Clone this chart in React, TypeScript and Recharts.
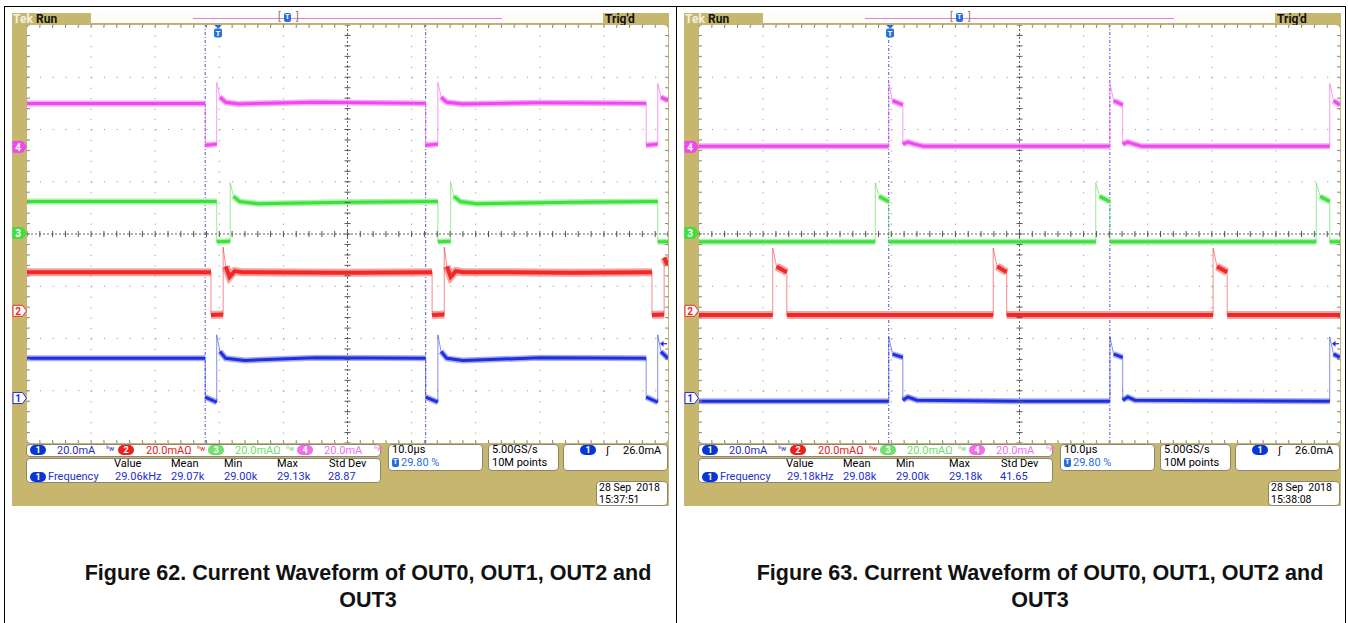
import React from "react";
import {
  ComposedChart,
  Line,
  XAxis,
  YAxis,
  CartesianGrid,
  ReferenceLine,
  ReferenceDot,
  Scatter,
} from "recharts";

type Pt = [number, number];

// time in µs (10 µs/div), level in divisions from screen centre

// ---- Figure 62 ----
const fig62Ch4: Pt[] = [
  [0, 2.5], [27.8, 2.5], [27.8, 1.7], [29.6, 1.72], [29.6, 2.9], [30.1, 2.62], [31.0, 2.52], [33, 2.49],
  [45, 2.52], [62.2, 2.5], [62.2, 1.7], [64.1, 1.72], [64.1, 2.9], [64.6, 2.62], [65.5, 2.52], [68, 2.49],
  [80, 2.51], [96.6, 2.5], [96.6, 1.7], [98.4, 1.72], [98.4, 2.88], [98.9, 2.62], [100, 2.55],
];
const fig62Ch3: Pt[] = [
  [0, 0.62], [29.6, 0.62], [29.6, -0.15], [31.7, -0.14], [31.7, 0.98], [32.2, 0.72], [33.2, 0.62], [36, 0.58],
  [50, 0.61], [64.1, 0.62], [64.1, -0.15], [66.1, -0.14], [66.1, 0.98], [66.6, 0.72], [67.6, 0.62], [70, 0.58],
  [85, 0.61], [98.4, 0.62], [98.4, -0.15], [100, -0.15],
];
const fig62Ch2: Pt[] = [
  [0, -0.73], [28.7, -0.73], [28.7, -1.55], [30.6, -1.54], [30.6, -0.25], [31.0, -0.62], [31.6, -0.82],
  [32.4, -0.71], [33.5, -0.73], [50, -0.74], [63.2, -0.73], [63.2, -1.55], [65.1, -1.54],
  [65.1, -0.25], [65.5, -0.62], [66.1, -0.82], [66.9, -0.71], [68, -0.73], [85, -0.74],
  [97.5, -0.73], [97.5, -1.55], [99.4, -1.54], [99.4, -0.45], [100, -0.6],
];
const fig62Ch1: Pt[] = [
  [0, -2.38], [27.8, -2.38], [27.8, -3.12], [29.6, -3.22], [29.6, -1.93], [30.1, -2.25], [31.0, -2.38], [34, -2.42],
  [45, -2.37], [62.2, -2.38], [62.2, -3.12], [64.1, -3.22], [64.1, -1.93], [64.6, -2.25], [65.5, -2.38], [68, -2.42],
  [80, -2.37], [96.6, -2.38], [96.6, -3.12], [98.4, -3.22], [98.4, -1.93], [98.9, -2.25], [100, -2.38],
];
const fig62Cursors = [27.8, 62.2];
const fig62Meas = ["29.06kHz", "29.07k", "29.00k", "29.13k", "28.87"];
const fig62Date = ["28 Sep  2018", "15:37:51"];

// ---- Figure 63 ----
const fig63Ch4: Pt[] = [
  [0, 1.68], [29.6, 1.68], [29.6, 2.88], [30.2, 2.55], [31.8, 2.47], [31.8, 1.72], [32.6, 1.76], [33.6, 1.72],
  [35, 1.68], [64.1, 1.68], [64.1, 2.88], [64.7, 2.55], [66.1, 2.47], [66.1, 1.72], [66.9, 1.76], [67.9, 1.72],
  [69, 1.68], [98.4, 1.68], [98.4, 2.88], [99.0, 2.55], [100, 2.47],
];
const fig63Ch3: Pt[] = [
  [0, -0.15], [27.5, -0.15], [27.5, 0.98], [28.1, 0.72], [29.6, 0.62], [29.6, -0.15], [61.9, -0.15],
  [61.9, 0.98], [62.5, 0.72], [64.1, 0.62], [64.1, -0.15], [96.3, -0.15], [96.3, 0.98], [96.9, 0.72],
  [98.4, 0.62], [98.4, -0.15], [100, -0.15],
];
const fig63Ch2: Pt[] = [
  [0, -1.55], [11.5, -1.55], [11.5, -0.27], [12.1, -0.62], [13.7, -0.73], [13.7, -1.55], [45.9, -1.55],
  [45.9, -0.27], [46.5, -0.62], [48.0, -0.73], [48.0, -1.55], [80.2, -1.55], [80.2, -0.27], [80.8, -0.62],
  [82.4, -0.73], [82.4, -1.55], [100, -1.55],
];
const fig63Ch1: Pt[] = [
  [0, -3.2], [29.6, -3.2], [29.6, -1.97], [30.2, -2.3], [31.8, -2.36], [31.8, -3.18], [32.6, -3.12], [34, -3.18],
  [50, -3.2], [64.1, -3.2], [64.1, -1.97], [64.7, -2.3], [66.1, -2.36], [66.1, -3.18], [66.9, -3.12], [68, -3.18],
  [98.4, -3.2], [98.4, -1.97], [99.0, -2.3], [100, -2.36],
];
const fig63Cursors = [29.6, 64.1];
const fig63Meas = ["29.18kHz", "29.08k", "29.00k", "29.18k", "41.65"];
const fig63Date = ["28 Sep  2018", "15:38:08"];

const X_TICKS = [0, 10, 20, 30, 40, 50, 60, 70, 80, 90, 100];
const Y_TICKS = [-4, -3, -2, -1, 0, 1, 2, 3, 4];
const MEAS_HEAD = ["Value", "Mean", "Min", "Max", "Std Dev"];
const CH_LEVELS = [-3.14, -1.47, 0.02, 1.67]; // ch1..ch4 ground markers
const TRIG_POS = 29.8;
const TRIG_LEVEL = -2.1;

const OLIVE = "#c6b66e";
const CH = [
  { n: "1", color: "#1f2fe0", halo: "#a6acf4", text: "#1c2fc8", filled: false, w: 3, hw: 6 },
  { n: "2", color: "#f02828", halo: "#f7a2a2", text: "#e52020", filled: false, w: 4, hw: 8 },
  { n: "3", color: "#3ee03e", halo: "#a6f2a6", text: "#6ade6a", filled: true, w: 3, hw: 6 },
  { n: "4", color: "#f048f0", halo: "#f8a8f8", text: "#f070f0", filled: true, w: 3, hw: 6 },
];

const minorT = Array.from({ length: 51 }, (_, i) => i * 2);
const minorV = Array.from({ length: 41 }, (_, i) => Math.round((-4 + i * 0.2) * 10) / 10);

const toRows = (pts: Pt[]) => pts.map(([t, v]) => ({ t, v }));
// the thick band skips vertical edges and the very tip of each spike,
// those are left to the thin trace, like on the scope screen
const withBreaks = (pts: Pt[]) => {
  const out: { t: number; v: number | null }[] = [];
  pts.forEach(([t, v], i) => {
    const edge = i > 0 && pts[i - 1][0] === t;
    const spikeTop = edge && v > pts[i - 1][1] && i + 1 < pts.length && pts[i + 1][1] < v - 0.2;
    if (edge) out.push({ t, v: null });
    out.push({ t, v: spikeTop ? null : v });
  });
  return out;
};

const tick = (x1: number, y1: number, x2: number, y2: number, color = "#8a8a8a") =>
  // eslint-disable-next-line @typescript-eslint/no-explicit-any
  (p: any) => (
    <line x1={p.cx + x1} y1={p.cy + y1} x2={p.cx + x2} y2={p.cy + y2} stroke={color} strokeWidth={1} />
  );

const FONT = "Roboto, 'DejaVu Sans', sans-serif";

function Txt({ x, y, color = "#000", size = 11, children }: any) {
  return (
    <div style={{ position: "absolute", left: x, top: y, color, fontSize: size, lineHeight: "11px", whiteSpace: "nowrap" }}>
      {children}
    </div>
  );
}

function Badge({ x, y, color, n }: any) {
  return (
    <div
      style={{
        position: "absolute", left: x, top: y, width: 16, height: 10, borderRadius: 6, background: color,
        color: "#fff", fontSize: 9, fontWeight: "bold", lineHeight: "10px", textAlign: "center",
      }}
    >
      {n}
    </div>
  );
}

function Box({ x, y, w, h }: any) {
  return (
    <div
      style={{
        position: "absolute", left: x, top: y, width: w, height: h, background: "#fff",
        border: "1px solid #8c8670", borderRadius: 4, boxSizing: "border-box",
      }}
    />
  );
}

function Bw({ x, y, color }: any) {
  return (
    <div style={{ position: "absolute", left: x, top: y + 1, color, fontSize: 7, lineHeight: "8px", whiteSpace: "nowrap" }}>
      ᴮw
    </div>
  );
}

function TIcon({ x, y }: any) {
  return (
    <div
      style={{
        position: "absolute", left: x, top: y, width: 7, height: 9, borderRadius: 2, background: "#2a6fd8",
        color: "#fff", fontSize: 7, fontWeight: "bold", lineHeight: "9px", textAlign: "center",
      }}
    >
      T
    </div>
  );
}

interface PanelProps {
  left: number;
  traces: Pt[][]; // ch1..ch4
  cursors: number[];
  meas: string[];
  date: string[];
}

function ScopePanel({ left, traces, cursors, meas, date }: PanelProps) {
  const edgeTop = minorT.map((t) => ({ t, v: 4 }));
  const edgeBottom = minorT.map((t) => ({ t, v: -4 }));
  const edgeLeft = minorV.map((v) => ({ t: 0, v }));
  const edgeRight = minorV.map((v) => ({ t: 100, v }));
  const centreH = minorT.map((t) => ({ t, v: 0 }));
  const centreV = minorV.map((v) => ({ t: 50, v }));

  return (
    <div style={{ position: "absolute", left, top: 13, width: 657, height: 493, background: OLIVE, fontFamily: FONT }}>
      {/* title strip */}
      <div style={{ position: "absolute", left: 1, top: -1, fontSize: 12, fontWeight: "bold", color: "#f6f1de" }}>Tek</div>
      <div style={{ position: "absolute", left: 24, top: -1, fontSize: 12, fontWeight: "bold", color: "#111" }}>Run</div>
      <div style={{ position: "absolute", left: 79, top: 0, width: 512, height: 10, background: "#fdfcf6", borderBottom: "1px solid #b8ad84" }} />
      <div style={{ position: "absolute", left: 181, top: 5, width: 309, height: 1, background: "#e47ce4" }} />
      <div style={{ position: "absolute", left: 266, top: -2, fontSize: 10, color: "#777" }}>[</div>
      <div style={{ position: "absolute", left: 284, top: -2, fontSize: 10, color: "#777" }}>]</div>
      <TIcon x={272} y={0} />
      <div style={{ position: "absolute", left: 593, top: -1, fontSize: 12, fontWeight: "bold", color: "#111" }}>Trig'd</div>

      <div style={{ position: "absolute", left: 0, top: 0 }}>
        <ComposedChart width={657} height={431} margin={{ top: 12, right: 1, bottom: 1, left: 15 }}>
          <XAxis type="number" dataKey="t" domain={[0, 100]} ticks={X_TICKS} hide allowDataOverflow />
          <YAxis type="number" dataKey="v" domain={[-4, 4]} ticks={Y_TICKS} hide allowDataOverflow />
          <CartesianGrid fill="#fff" horizontal={false} stroke="#9c9c9c" strokeDasharray="1.2 9.25" />
          <CartesianGrid vertical={false} stroke="#9c9c9c" strokeDasharray="1.2 11.62" />
          <ReferenceLine x={50} stroke="#666" strokeDasharray="2 2" />
          <ReferenceLine y={0} stroke="#666" strokeDasharray="2 2" />
          {cursors.map((c) => (
            <ReferenceLine key={c} x={c} stroke="#5050e0" strokeDasharray="3 2 1 2" />
          ))}
          <Scatter data={edgeTop} dataKey="v" shape={tick(0, 0, 0, 3)} isAnimationActive={false} />
          <Scatter data={edgeBottom} dataKey="v" shape={tick(0, -3, 0, 0)} isAnimationActive={false} />
          <Scatter data={edgeLeft} dataKey="v" shape={tick(0, 0, 3, 0)} isAnimationActive={false} />
          <Scatter data={edgeRight} dataKey="v" shape={tick(-3, 0, 0, 0)} isAnimationActive={false} />
          <Scatter data={centreH} dataKey="v" shape={tick(0, -3, 0, 3, "#555")} isAnimationActive={false} />
          <Scatter data={centreV} dataKey="v" shape={tick(-3, 0, 3, 0, "#555")} isAnimationActive={false} />
          {traces.map((pts, i) => (
            <Line
              key={`h${i}`}
              data={withBreaks(pts)}
              dataKey="v"
              type="linear"
              stroke={CH[i].halo}
              strokeWidth={CH[i].hw}
              dot={false}
              activeDot={false}
              isAnimationActive={false}
            />
          ))}
          {traces.map((pts, i) => (
            <Line
              key={`t${i}`}
              data={toRows(pts)}
              dataKey="v"
              type="linear"
              stroke={CH[i].color}
              strokeOpacity={0.55}
              strokeWidth={1}
              dot={false}
              activeDot={false}
              isAnimationActive={false}
            />
          ))}
          {traces.map((pts, i) => (
            <Line
              key={`c${i}`}
              data={withBreaks(pts)}
              dataKey="v"
              type="linear"
              stroke={CH[i].color}
              strokeWidth={CH[i].w}
              dot={false}
              activeDot={false}
              isAnimationActive={false}
            />
          ))}
          {CH.map((c, i) => (
            <ReferenceDot
              key={c.n}
              x={0}
              y={CH_LEVELS[i]}
              ifOverflow="visible"
              shape={(p: any) => (
                <g>
                  <path
                    d={`M${p.cx - 14},${p.cy - 5.5} h9.5 l4,5.5 l-4,5.5 h-9.5 z`}
                    fill={c.filled ? c.color : "#fff"}
                    stroke={c.color}
                    strokeWidth={1}
                  />
                  <text
                    x={p.cx - 9}
                    y={p.cy + 4}
                    textAnchor="middle"
                    fontSize={10}
                    fontFamily={FONT}
                    fontWeight="bold"
                    fill={c.filled ? "#fff" : c.color}
                  >
                    {c.n}
                  </text>
                </g>
              )}
            />
          ))}
          <ReferenceDot
            x={TRIG_POS}
            y={4}
            ifOverflow="visible"
            shape={(p: any) => (
              <g>
                <path d={`M${p.cx - 4},${p.cy} h8 l-4,3.5 z`} fill="#2a6fd8" />
                <rect x={p.cx - 4} y={p.cy + 3.5} width={8} height={9} rx={2} fill="#2a6fd8" />
                <text x={p.cx} y={p.cy + 11} textAnchor="middle" fontSize={8} fontWeight="bold" fontFamily={FONT} fill="#fff">
                  T
                </text>
              </g>
            )}
          />
          <ReferenceDot
            x={100}
            y={TRIG_LEVEL}
            ifOverflow="visible"
            shape={(p: any) => (
              <g>
                <path d={`M${p.cx - 8},${p.cy} l3.5,-3 v6 z`} fill="#1f2fe0" />
                <line x1={p.cx - 5} y1={p.cy} x2={p.cx - 1} y2={p.cy} stroke="#1f2fe0" strokeWidth={1.2} />
              </g>
            )}
          />
        </ComposedChart>
      </div>

      {/* readouts */}
      <Box x={14} y={431} w={355} h={13} />
      <Badge x={18} y={432} color="#0b36d6" n="1" />
      <Txt x={45} y={432} color={CH[0].text}>20.0mA</Txt>
      <Bw x={94} y={431} color={CH[0].text} />
      <Badge x={106} y={432} color="#ec2020" n="2" />
      <Txt x={134} y={432} color={CH[1].text}>20.0mAΩ</Txt>
      <Bw x={185} y={431} color={CH[1].text} />
      <Badge x={196} y={432} color="#6ee06e" n="3" />
      <Txt x={223} y={432} color={CH[2].text}>20.0mAΩ</Txt>
      <Bw x={274} y={431} color={CH[2].text} />
      <Badge x={285} y={432} color="#f070f0" n="4" />
      <Txt x={312} y={432} color={CH[3].text}>20.0mA</Txt>
      <Bw x={362} y={431} color={CH[3].text} />

      <Box x={14} y={445} w={355} h={25} />
      {MEAS_HEAD.map((h, i) => (
        <Txt key={h} x={[102, 159, 212, 265, 317][i]} y={445}>{h}</Txt>
      ))}
      <Badge x={18} y={459} color="#0b36d6" n="1" />
      <Txt x={36} y={458} color={CH[0].text}>Frequency</Txt>
      {meas.map((m, i) => (
        <Txt key={i} x={[103, 159, 212, 265, 316][i]} y={458} color={CH[0].text}>{m}</Txt>
      ))}

      <Box x={376} y={431} w={95} h={27} />
      <Txt x={380} y={431}>10.0µs</Txt>
      <TIcon x={380} y={445} />
      <Txt x={389} y={444} color="#2a6fd8">29.80 %</Txt>

      <Box x={476} y={431} w={71} h={27} />
      <Txt x={480} y={431}>5.00GS/s</Txt>
      <Txt x={480} y={444}>10M points</Txt>

      <Box x={551} y={431} w={105} h={27} />
      <Badge x={568} y={432} color="#0b36d6" n="1" />
      <Txt x={594} y={432}>ʃ</Txt>
      <Txt x={611} y={432}>26.0mA</Txt>

      <Box x={584} y={468} w={72} h={25} />
      <Txt x={587} y={468.5} size={10.5}><span style={{ whiteSpace: "pre" }}>{date[0]}</span></Txt>
      <Txt x={587} y={481} size={10.5}>{date[1]}</Txt>
    </div>
  );
}

const captionStyle: React.CSSProperties = {
  position: "absolute",
  top: 560,
  width: 620,
  textAlign: "center",
  fontFamily: "'Liberation Sans', Arial, sans-serif",
  fontWeight: "bold",
  fontSize: 21.5,
  lineHeight: "27px",
  color: "#111",
  whiteSpace: "nowrap",
};

export default function App() {
  return (
    <div style={{ position: "absolute", left: 0, top: 0, width: 1348, height: 623, background: "#fff", overflow: "hidden" }}>
      <div style={{ position: "absolute", left: 4, top: 6, width: 1342, height: 1, background: "#000" }} />
      <div style={{ position: "absolute", left: 4, top: 6, width: 1, height: 617, background: "#000" }} />
      <div style={{ position: "absolute", left: 676, top: 6, width: 1, height: 617, background: "#000" }} />
      <div style={{ position: "absolute", left: 1345, top: 6, width: 1, height: 617, background: "#000" }} />

      <ScopePanel
        left={12}
        traces={[fig62Ch1, fig62Ch2, fig62Ch3, fig62Ch4]}
        cursors={fig62Cursors}
        meas={fig62Meas}
        date={fig62Date}
      />
      <ScopePanel
        left={684}
        traces={[fig63Ch1, fig63Ch2, fig63Ch3, fig63Ch4]}
        cursors={fig63Cursors}
        meas={fig63Meas}
        date={fig63Date}
      />

      <div style={{ ...captionStyle, left: 58 }}>
        Figure 62. Current Waveform of OUT0, OUT1, OUT2 and
        <br />
        OUT3
      </div>
      <div style={{ ...captionStyle, left: 730 }}>
        Figure 63. Current Waveform of OUT0, OUT1, OUT2 and
        <br />
        OUT3
      </div>
    </div>
  );
}
